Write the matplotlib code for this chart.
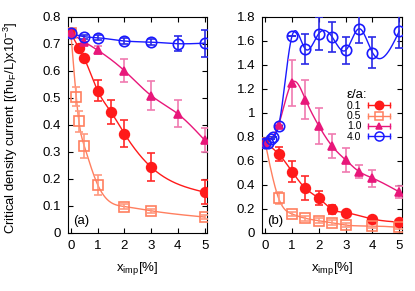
import numpy as np
import matplotlib
matplotlib.use("Agg")
import matplotlib.pyplot as plt
from matplotlib.lines import Line2D
from matplotlib.legend_handler import HandlerLine2D

plt.rcParams['font.family'] = ['Liberation Sans', 'DejaVu Sans']
plt.rcParams['mathtext.fontset'] = 'custom'
plt.rcParams['mathtext.rm'] = 'Liberation Sans'
plt.rcParams['mathtext.it'] = 'Liberation Sans:italic'

# ---- panel (a) ----
a_x01 = [0, 0.3, 0.5, 1, 1.5, 2, 3, 5]
a_y01 = [0.738, 0.684, 0.646, 0.526, 0.447, 0.367, 0.243, 0.150]
a_e01 = [0.0, 0.0, 0.0, 0.04, 0.045, 0.05, 0.051, 0.044]

a_x05 = [0, 0.2, 0.3, 0.5, 1, 2, 3, 5]
a_y05 = [0.738, 0.504, 0.412, 0.321, 0.178, 0.097, 0.081, 0.058]
a_e05 = [0.0, 0.035, 0.04, 0.043, 0.037, 0.01, 0.008, 0.006]

a_x10 = [0, 0.5, 1, 2, 3, 4, 5]
a_y10 = [0.738, 0.707, 0.676, 0.600, 0.508, 0.440, 0.343]
a_e10 = [0.0, 0.0, 0.015, 0.042, 0.055, 0.05, 0.045]

a_x40 = [0, 0.5, 1, 2, 3, 4, 5]
a_y40 = [0.738, 0.726, 0.722, 0.710, 0.706, 0.700, 0.702]
a_e40 = [0.0, 0.008, 0.01, 0.01, 0.01, 0.028, 0.05]

# ---- panel (b) ----
b_x01 = [0, 0.5, 1, 1.5, 2, 2.5, 3, 4, 5]
b_y01 = [0.75, 0.656, 0.51, 0.37, 0.287, 0.195, 0.167, 0.114, 0.088]
b_e01 = [0.0, 0.06, 0.09, 0.1, 0.06, 0.04, 0.015, 0.015, 0.015]

b_x05 = [0, 0.5, 1, 1.5, 2, 2.5, 3, 4, 5]
b_y05 = [0.75, 0.287, 0.156, 0.12, 0.10, 0.083, 0.064, 0.056, 0.045]
b_e05 = [0.0, 0.05, 0.02, 0.02, 0.02, 0.02, 0.015, 0.015, 0.015]

b_x10 = [0, 0.5, 1, 1.5, 2, 2.5, 3, 3.5, 4, 5]
b_y10 = [0.75, 0.9, 1.25, 1.11, 0.89, 0.72, 0.606, 0.51, 0.455, 0.34]
b_e10 = [0.0, 0.0, 0.19, 0.16, 0.15, 0.1, 0.1, 0.055, 0.07, 0.05]

b_x40 = [0, 0.1, 0.2, 0.3, 0.5, 1, 1.5, 2, 2.5, 3, 3.5, 4, 5]
b_y40 = [0.745, 0.75, 0.78, 0.80, 0.89, 1.64, 1.53, 1.66, 1.63, 1.52, 1.70, 1.50, 1.68]
b_e40 = [0.0, 0.0, 0.0, 0.0, 0.0, 0.0, 0.125, 0.14, 0.125, 0.11, 0.12, 0.13, 0.14]

labels = ['0.1', '0.5', '1.0', '4.0']
colors = ['#ff1a1a', '#ff7f5f', '#e8177a', '#1a1aff']
ecolors = ['#ff2a2a', '#ff9a80', '#f07ab0', '#2a2ae6']
markers = ['o', 's', '^', 'o']
msizes = [7, 6.5, 5.5, 7.5]
filled = [True, False, True, False]


def spline(x, y, n=300):
    # natural cubic spline, just for the drawn curve
    x = np.asarray(x, float)
    y = np.asarray(y, float)
    k = len(x)
    h = np.diff(x)
    A = np.zeros((k, k))
    r = np.zeros(k)
    A[0, 0] = A[-1, -1] = 1
    for i in range(1, k - 1):
        A[i, i - 1] = h[i - 1]
        A[i, i] = 2 * (h[i - 1] + h[i])
        A[i, i + 1] = h[i]
        r[i] = 3 * ((y[i + 1] - y[i]) / h[i] - (y[i] - y[i - 1]) / h[i - 1])
    c = np.linalg.solve(A, r)
    xs = np.linspace(x[0], x[-1], n)
    i = np.clip(np.searchsorted(x, xs) - 1, 0, k - 2)
    dx = xs - x[i]
    b = (y[i + 1] - y[i]) / h[i] - h[i] * (2 * c[i] + c[i + 1]) / 3
    d = (c[i + 1] - c[i]) / (3 * h[i])
    return xs, y[i] + b * dx + c[i] * dx ** 2 + d * dx ** 3


def draw(ax, sets):
    for j, (x, y, e) in enumerate(sets):
        xs, ys = spline(x, y)
        ax.plot(xs, ys, color=colors[j], lw=1.0, zorder=2)
        ax.errorbar(x, y, yerr=e, fmt='none', ecolor=ecolors[j], elinewidth=1.2,
                    capsize=3, capthick=1.2, zorder=3)
        ax.plot(x, y, ls='none', marker=markers[j], ms=msizes[j], color=colors[j],
                mfc=colors[j] if filled[j] else 'none', mew=1.2, zorder=4)


def style(ax, ymax, ystep, tag):
    ax.set_xlim(-0.12, 5.1)
    ax.set_ylim(0, ymax)
    ax.set_xticks(range(6))
    ax.set_yticks(np.round(np.arange(0, ymax + 1e-9, ystep), 2))
    ax.yaxis.set_major_formatter(matplotlib.ticker.FormatStrFormatter('%g'))
    ax.tick_params(direction='in', length=3.5, width=0.8, top=True, right=True,
                   labelsize=9.5, pad=5)
    for s in ax.spines.values():
        s.set_linewidth(0.8)
    ax.set_xlabel(r'x$_{\mathrm{imp}}$[%]', fontsize=9.5, labelpad=6)
    ax.text(0.04, 0.04, tag, transform=ax.transAxes, fontsize=9.5)


class CapHandler(HandlerLine2D):
    def create_artists(self, legend, orig, xd, yd, w, h, fontsize, trans):
        arts = super().create_artists(legend, orig, xd, yd, w, h, fontsize, trans)
        yc = (h - yd) / 2
        caps = Line2D([-xd, -xd + w], [yc, yc], ls='none', marker='|', ms=4,
                      mew=1.0, color=orig.get_color(), transform=trans)
        return arts + [caps]


fig = plt.figure(figsize=(4.15, 2.91), dpi=100)
ax1 = fig.add_axes([0.1631, 0.2003, 0.3364, 0.7423])
ax2 = fig.add_axes([0.6313, 0.2003, 0.3373, 0.7423])

draw(ax1, [(a_x01, a_y01, a_e01), (a_x05, a_y05, a_e05),
           (a_x10, a_y10, a_e10), (a_x40, a_y40, a_e40)])
draw(ax2, [(b_x01, b_y01, b_e01), (b_x05, b_y05, b_e05),
           (b_x10, b_y10, b_e10), (b_x40, b_y40, b_e40)])
style(ax1, 0.8, 0.1, '(a)')
style(ax2, 1.8, 0.2, '(b)')

handles = [Line2D([], [], color=colors[j], marker=markers[j], ms=msizes[j] - 1,
                  mfc=colors[j] if filled[j] else 'none', mew=1.1, lw=1.0)
           for j in range(4)]
leg = ax2.legend(handles, labels, title='ε/a:', loc='upper right',
                 bbox_to_anchor=(0.97, 0.70), frameon=False, markerfirst=False,
                 fontsize=7.5, title_fontsize=9.5, handlelength=2.2, labelspacing=0.02,
                 handletextpad=0.6, borderpad=0.2,
                 handler_map={Line2D: CapHandler()})
leg._legend_box.align = 'left'

fig.text(0.027, (291 - 128) / 291,
         r'Critical density current [(ħυ$_{\mathrm{F}}$/L)x10$^{-3}$]',
         rotation=90, ha='center', va='center', fontsize=9.4)

fig.savefig('out.png', dpi=100)
